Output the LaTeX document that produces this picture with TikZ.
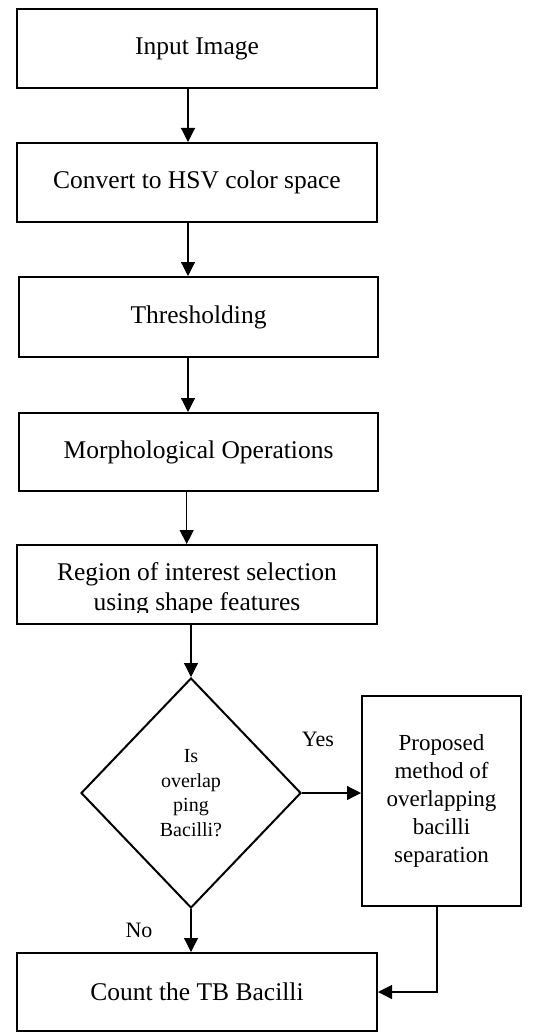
\documentclass[tikz,border=0pt]{standalone}
\usepackage{fontspec}
\setmainfont{Liberation Serif}
\usetikzlibrary{shapes.geometric,arrows.meta,calc}
\tikzset{
  procbox/.style={draw, line width=2pt, minimum width=#1, inner sep=0pt, font=\fontsize{25.5}{30}\selectfont},
  arr/.style={line width=1.2pt, -{Triangle[length=14pt,width=14pt]}},
  lbl/.style={font=\fontsize{22}{26}\selectfont, inner sep=0pt}
}
\begin{document}
\begin{tikzpicture}[x=1pt,y=-1pt]
\useasboundingbox (0,0) rectangle (547,1032);
\node[procbox=360pt, minimum height=79pt] (b1) at (197,48.5) {Input Image};
\node[procbox=360pt, minimum height=79pt] (b2) at (197,182.5) {Convert to HSV color space};
\node[procbox=359pt, minimum height=80pt] (b3) at (198.5,317) {Thresholding};
\node[procbox=359pt, minimum height=78pt] (b4) at (198.5,452) {Morphological Operations};
\node[procbox=360pt, minimum height=79pt] (b5) at (197,584.5) {};
\begin{scope}
\clip (18,546) rectangle (376,612);
\node[anchor=base, inner sep=0pt, font=\fontsize{25.5}{30}\selectfont] (t5a) at (197,580) {Region of interest selection};
\node[anchor=base, inner sep=0pt, font=\fontsize{25.5}{30}\selectfont] (t5b) at (197,610) {using shape features};
\end{scope}
\node[draw, diamond, line width=2pt, minimum width=220pt, minimum height=230pt, inner sep=0pt, align=center, font=\fontsize{20}{24.5}\selectfont] (d) at (191,793) {Is\\overlap\\ping\\Bacilli?};
\node[procbox=159pt, minimum height=210pt, align=center, font=\fontsize{23}{28}\selectfont] (b6) at (441.5,801) {Proposed\\method of\\overlapping\\bacilli\\separation};
\node[procbox=360pt, minimum height=78pt] (b7) at (197,992) {Count the TB Bacilli};
\node[lbl] (yes) at (318,739) {Yes};
\node[lbl] (no) at (139,930) {No};
\draw[arr] ([xshift=-9pt]b1.south) -- ([xshift=-9pt]b2.north);
\draw[arr] ([xshift=-9pt]b2.south) -- ([xshift=-9pt]b2.south |- b3.north);
\draw[arr] ([xshift=-10.5pt]b3.south) -- ([xshift=-10.5pt]b4.north);
\draw[arr] ([xshift=-11.8pt]b4.south) -- ([xshift=-11.8pt]b4.south |- b5.north);
\draw[arr] (b5.south -| d.north) -- (d.north);
\draw[arr] (d.east) -- (d.east -| b6.west);
\draw[arr] (d.south) -- (d.south |- b7.north);
\draw[arr] ([xshift=-4.5pt]b6.south) |- (b7.east);
\end{tikzpicture}
\end{document}
